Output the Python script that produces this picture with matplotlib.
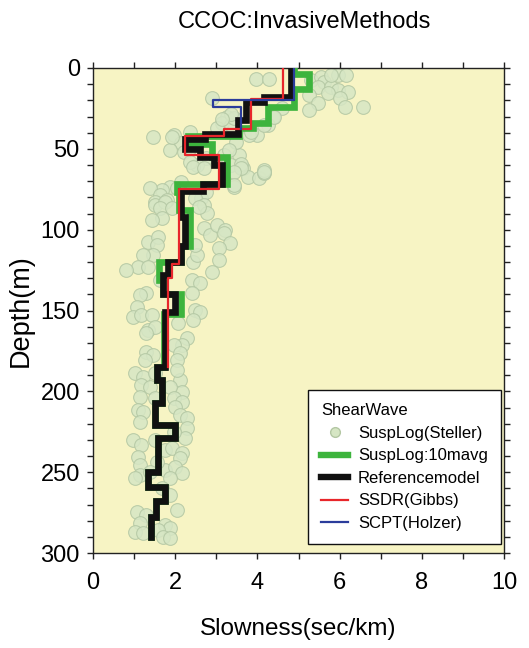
import numpy as np
import matplotlib
matplotlib.use("Agg")
import matplotlib.pyplot as plt
from matplotlib.lines import Line2D
from matplotlib.ticker import MultipleLocator

plt.rcParams['font.family'] = ['Liberation Sans', 'DejaVu Sans']

# ---------------- data ----------------
# Suspension log (Steller): slowness (sec/km), depth (m)
susp_slowness = [
    3.96, 4.29, 5.31, 5.55, 5.63, 5.47, 5.96, 6.16, 5.79, 5.96, 6.20, 5.71, 5.26, 6.00, 6.12, 6.57,
    5.47, 5.26, 4.61, 4.37, 4.25, 4.00, 3.80, 2.90, 3.27, 3.15, 3.35, 3.43, 3.02, 2.37, 1.96, 1.47,
    2.13, 1.88, 2.21, 2.37, 3.55, 3.35, 3.19, 2.74, 2.54, 2.37, 3.64, 3.76, 4.04, 4.16, 3.43, 2.13,
    1.88, 1.68, 1.39, 1.64, 1.52, 1.80, 2.62, 2.74,
    3.35, 3.15, 4.41, 4.16, 3.84, 1.92, 3.47, 3.31, 3.60, 4.16, 5.80,
    2.44, 2.69, 3.59, 3.42, 4.16, 3.42, 2.04, 1.51, 1.75, 1.63, 1.92, 1.67, 1.43, 2.49, 2.69, 2.77,
    2.57, 2.69, 2.85, 3.02, 3.22, 3.18, 3.34, 3.06, 3.06, 2.89, 2.44, 2.53, 2.49, 1.34, 1.59, 1.55,
    1.47, 1.22, 1.10, 1.34, 0.81, 2.40, 2.61, 1.63,
    2.40, 1.30, 1.14, 1.06, 0.98, 1.18, 1.43, 1.34, 1.51, 1.30, 2.49, 2.61, 2.44, 2.08, 2.28, 2.16,
    1.96, 2.12, 2.04, 1.30, 1.47, 1.26, 1.02, 1.22, 1.51, 1.18, 1.39, 2.12, 2.16, 2.04, 1.87,
    1.14, 1.51, 1.96, 2.16, 1.10, 1.22, 1.14, 2.00, 2.12, 2.28, 2.28, 2.24, 1.96, 0.98, 1.18, 1.51,
    1.75, 1.92, 2.16, 2.12, 1.10, 1.14, 1.14, 1.02, 1.75, 2.00, 2.16, 1.87, 1.67, 1.87, 1.06, 1.30,
    2.04, 1.14, 1.75, 1.87, 1.02, 1.22, 1.59, 1.71, 1.87, 1.55, 1.39,
]
susp_depth = [
    7.0, 6.8, 7.4, 5.4, 8.5, 11.5, 4.3, 4.3, 11.5, 13.6, 14.6, 15.7, 16.7, 18.8, 23.9, 23.9,
    21.8, 26.0, 24.9, 30.1, 35.2, 41.4, 41.4, 18.8, 30.1, 34.2, 35.2, 31.1, 37.3, 39.4, 41.4, 42.5,
    46.6, 50.7, 51.7, 49.7, 53.8, 60.0, 53.8, 55.9, 60.0, 57.9, 62.0, 67.2, 68.2, 65.1, 73.4, 70.3,
    73.4, 75.4, 74.4, 78.5, 82.7, 81.6, 80.6, 76.5,
    28.3, 31.3, 30.3, 35.4, 39.6, 42.7, 45.8, 50.9, 59.2, 63.3, 4.5,
    61.0, 62.0, 62.0, 64.1, 64.1, 72.4, 74.4, 84.7, 82.7, 86.8, 86.8, 93.0, 94.0, 80.6, 84.7, 89.9,
    85.8, 99.1, 103.3, 97.1, 100.2, 102.2, 108.4, 111.5, 118.7, 126.0, 119.8, 115.6, 109.5, 107.4, 104.3, 109.5,
    115.6, 115.6, 122.9, 122.9, 124.9, 131.1, 133.2, 131.1,
    139.3, 139.3, 140.4, 147.6, 153.8, 152.8, 152.8, 162.0, 160.0, 164.1, 149.7, 150.7, 155.8, 157.9, 167.2, 171.3,
    171.3, 176.4, 180.6, 175.4, 177.5, 180.6, 188.8, 190.9, 188.8, 196.0, 197.1, 193.0, 200.2, 186.8, 197.1,
    203.3, 204.3, 204.3, 206.4, 211.5, 212.6, 218.7, 209.5, 214.6, 216.6, 222.8, 229.0, 224.9, 230.1, 233.1, 230.1,
    236.2, 235.2, 238.3, 241.4, 240.4, 245.5, 251.7, 253.7, 248.6, 246.6, 250.6, 253.7, 259.9, 264.1, 274.4, 276.4,
    273.3, 281.6, 282.6, 284.7, 286.8, 287.8, 285.7, 289.9, 290.9, 243.5, 249.7,
]

# Suspension log 10 m average: layer tops / bottoms (m) and slowness (sec/km)
avg_top = [0, 4, 13, 24, 34, 37, 42, 47, 55, 72, 77, 88, 110, 120, 131, 140, 152, 185, 193, 207, 221, 229, 250, 259, 268, 278]
avg_bot = [4, 13, 24, 34, 37, 42, 47, 55, 72, 77, 88, 110, 120, 131, 140, 152, 185, 193, 207, 221, 229, 250, 259, 268, 278, 290]
avg_slow = [4.90, 5.25, 4.90, 4.25, 3.90, 3.55, 2.30, 2.90, 3.25, 2.05, 2.10, 2.35, 2.15, 1.60, 1.70, 2.15, 1.72,
            1.55, 1.68, 1.51, 2.00, 1.59, 1.34, 1.76, 1.54, 1.42]

# Reference model
ref_top = [0, 18, 21, 32, 41, 44, 50, 55, 60, 72, 76, 92, 110, 120, 128, 140, 151, 185, 193, 207, 221, 229, 250, 259, 268, 278]
ref_bot = [18, 21, 32, 41, 44, 50, 55, 60, 72, 76, 92, 110, 120, 128, 140, 151, 185, 193, 207, 221, 229, 250, 259, 268, 278, 290]
ref_slow = [4.82, 4.15, 3.72, 3.52, 2.72, 2.25, 2.60, 2.95, 3.15, 2.68, 2.15, 2.25, 2.15, 1.83, 1.70, 2.00, 1.76,
            1.55, 1.68, 1.51, 2.00, 1.59, 1.34, 1.76, 1.54, 1.42]

# SSDR (Gibbs)
ssdr_top = [0, 19, 38, 42, 54, 75, 121, 130]
ssdr_bot = [19, 38, 42, 54, 75, 121, 130, 185]
ssdr_slow = [4.62, 3.84, 3.18, 2.25, 3.06, 2.10, 1.93, 1.83]

# SCPT (Holzer)
scpt_top = [0, 20, 24]
scpt_bot = [20, 24, 38]
scpt_slow = [4.89, 2.93, 3.60]

labels = ["SuspLog(Steller)", "SuspLog:10mavg", "Referencemodel", "SSDR(Gibbs)", "SCPT(Holzer)"]


def stairs(top, bot, slow):
    xs = np.repeat(np.asarray(slow, float), 2)
    ys = np.column_stack([top, bot]).ravel().astype(float)
    return xs, ys


# ---------------- figure ----------------
W, H = 529, 648
fig = plt.figure(figsize=(W / 100, H / 100), dpi=100)
ax = fig.add_axes([93 / W, 1 - 553 / H, (504 - 93) / W, (553 - 68) / H])
ax.set_facecolor('#F7F4C4')

ax.scatter(susp_slowness, susp_depth, s=98, facecolor='#D6E6C4', edgecolor='#B3C7A3',
           linewidth=0.8, alpha=0.85, zorder=2)
x, y = stairs(avg_top, avg_bot, avg_slow)
ax.plot(x, y, color='#3DB43D', lw=4.8, solid_joinstyle='miter', zorder=3)
x, y = stairs(ref_top, ref_bot, ref_slow)
ax.plot(x, y, color='#111111', lw=4.8, solid_joinstyle='miter', zorder=4)
x, y = stairs(ssdr_top, ssdr_bot, ssdr_slow)
ax.plot(x, y, color='#E8262B', lw=1.6, zorder=5)
x, y = stairs(scpt_top, scpt_bot, scpt_slow)
ax.plot(x, y, color='#2B3C9B', lw=1.6, zorder=6)

ax.set_xlim(0, 10)
ax.set_ylim(300, 0)
ax.xaxis.set_major_locator(MultipleLocator(2))
ax.xaxis.set_minor_locator(MultipleLocator(1))
ax.yaxis.set_major_locator(MultipleLocator(50))
ax.yaxis.set_minor_locator(MultipleLocator(10))
ax.tick_params(which='both', direction='out', top=True, right=True, length=4.5, width=1.0,
               color='#222222')
ax.tick_params(axis='x', which='major', labelsize=17, pad=9)
ax.tick_params(axis='y', which='major', labelsize=17, pad=5)
for sp in ax.spines.values():
    sp.set_linewidth(1.0)
    sp.set_color('#222222')

ax.set_xlabel('Slowness(sec/km)', fontsize=17.5)
ax.xaxis.set_label_coords(0.5, -0.135)
ax.set_ylabel('Depth(m)', fontsize=19.5)
ax.yaxis.set_label_coords(-0.145, 0.5)

fig.text(304 / W, 1 - 28 / H, 'CCOC:InvasiveMethods', ha='center', va='baseline', fontsize=17)

handles = [
    Line2D([], [], ls='none', marker='o', ms=7, markerfacecolor='#D6E6C4', markeredgecolor='#B3C7A3'),
    Line2D([], [], color='#3DB43D', lw=4.6),
    Line2D([], [], color='#111111', lw=4.6),
    Line2D([], [], color='#E8262B', lw=1.6),
    Line2D([], [], color='#2B3C9B', lw=1.6),
]
leg = ax.legend(handles, labels, title='ShearWave', loc='lower right',
                bbox_to_anchor=(0.993, 0.018), borderaxespad=0, fontsize=12, title_fontsize=12,
                frameon=True, fancybox=False, framealpha=1, edgecolor='#111111',
                handlelength=1.6, handletextpad=0.6, labelspacing=0.45, borderpad=0.8,
                alignment='left')
leg.get_frame().set_linewidth(1.0)
leg.set_zorder(10)

fig.savefig('out.png', dpi=100)
